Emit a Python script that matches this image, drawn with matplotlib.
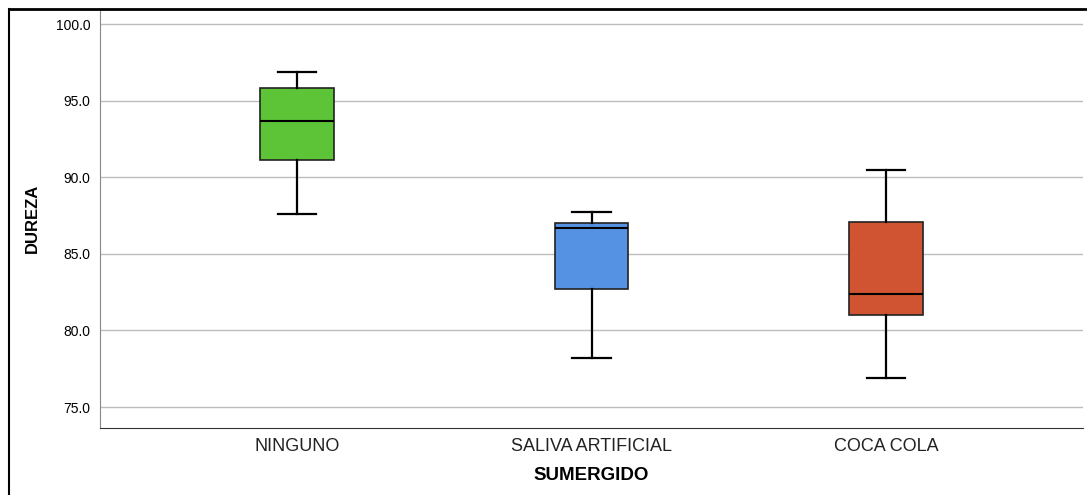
import matplotlib
matplotlib.use("Agg")
import matplotlib.pyplot as plt
from matplotlib.lines import Line2D

# ---------------------------------------------------------------------------
# Data
# ---------------------------------------------------------------------------
GROUPS = ["NINGUNO", "SALIVA ARTIFICIAL", "COCA COLA"]
WHISKER_LO = [87.6, 78.2, 76.9]
Q1 = [91.1, 82.7, 81.0]
MEDIAN = [93.7, 86.7, 82.4]
Q3 = [95.8, 87.0, 87.1]
WHISKER_HI = [96.9, 87.7, 90.5]
COLORS = ["#5dc337", "#5592e3", "#d05432"]
YTICKS = [75.0, 80.0, 85.0, 90.0, 95.0, 100.0]

plt.rcParams["font.family"] = ["Liberation Sans", "DejaVu Sans"]

fig = plt.figure(figsize=(10.87, 4.95), dpi=100)
ax = fig.add_axes([100 / 1087, 1 - 428 / 495, 983 / 1087, 419 / 495])

stats = []
for i, g in enumerate(GROUPS):
    stats.append({"label": g, "whislo": WHISKER_LO[i], "q1": Q1[i], "med": MEDIAN[i],
                  "q3": Q3[i], "whishi": WHISKER_HI[i], "fliers": []})

pos = [1, 2, 3]
bp = ax.bxp(stats, positions=pos, widths=0.25, patch_artist=True, showfliers=False,
            boxprops=dict(edgecolor="#222222", linewidth=1.2),
            medianprops=dict(color="black", linewidth=1.5),
            whiskerprops=dict(color="black", linewidth=1.6),
            capprops=dict(color="black", linewidth=1.6),
            capwidths=0.13)
for patch, c in zip(bp["boxes"], COLORS):
    patch.set_facecolor(c)

ax.set_xlim(1 - 0.669, 3 + 0.669)
ax.set_ylim(73.63, 100.98)
ax.set_yticks(YTICKS)
ax.set_yticklabels([f"{t:.1f}" for t in YTICKS], fontsize=10)
ax.set_xticks(pos)
ax.set_xticklabels(GROUPS, fontsize=13, color="#222222")
ax.tick_params(axis="both", length=0, pad=7)
ax.tick_params(axis="x", pad=7)
ax.yaxis.grid(True, color="#bdbdbd", linewidth=1)
ax.set_axisbelow(True)

for s in ["top", "right"]:
    ax.spines[s].set_visible(False)
ax.spines["left"].set_color("#888888")
ax.spines["bottom"].set_color("#333333")

ax.set_ylabel("DUREZA", fontsize=12, fontweight="bold")
ax.set_xlabel("SUMERGIDO", fontsize=13.5, fontweight="bold", labelpad=9)
ax.yaxis.set_label_coords(-60 / 983, 0.5)

# outer frame
x0 = 9 / 1087
y0 = 1 - 9 / 495
fig.add_artist(Line2D([x0, x0], [0, y0], transform=fig.transFigure, color="black", linewidth=1.5))
fig.add_artist(Line2D([x0, 1], [y0, y0], transform=fig.transFigure, color="black", linewidth=2))

fig.savefig("out.png", dpi=100)
